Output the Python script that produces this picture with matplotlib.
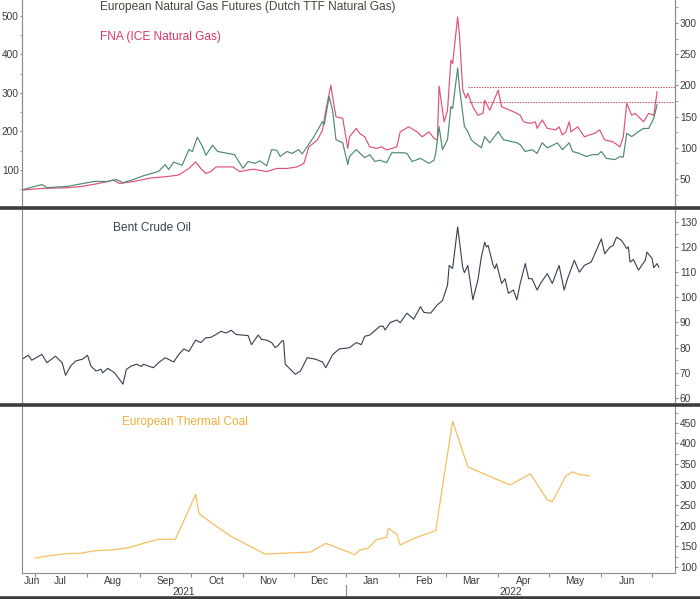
import numpy as np
import pandas as pd
import matplotlib
matplotlib.use("Agg")
import matplotlib.pyplot as plt
import matplotlib.dates as mdates
from matplotlib.ticker import MultipleLocator, FixedLocator, FixedFormatter, NullFormatter
from matplotlib.lines import Line2D

plt.rcParams['font.family'] = ['Liberation Sans', 'DejaVu Sans']

# ---- data ----
ttf_dates = ["2021-06-24", "2021-07-05", "2021-07-08", "2021-07-20", "2021-07-28", "2021-08-05",
             "2021-08-13", "2021-08-18", "2021-08-22", "2021-08-28", "2021-09-03", "2021-09-12",
             "2021-09-16", "2021-09-18", "2021-09-21", "2021-09-26", "2021-09-30", "2021-10-02",
             "2021-10-05", "2021-10-08", "2021-10-10", "2021-10-14", "2021-10-17", "2021-10-23",
             "2021-10-27", "2021-11-01", "2021-11-04", "2021-11-08", "2021-11-11", "2021-11-15",
             "2021-11-18", "2021-11-21", "2021-11-23", "2021-11-27", "2021-11-30", "2021-12-04",
             "2021-12-06", "2021-12-09", "2021-12-13", "2021-12-18", "2021-12-19", "2021-12-22",
             "2021-12-24", "2021-12-26", "2021-12-30", "2022-01-02", "2022-01-03", "2022-01-07",
             "2022-01-12", "2022-01-15", "2022-01-18", "2022-01-21", "2022-01-25", "2022-01-28",
             "2022-02-04", "2022-02-06", "2022-02-09", "2022-02-14", "2022-02-19", "2022-02-22",
             "2022-02-23", "2022-02-25", "2022-02-27", "2022-03-02", "2022-03-04", "2022-03-05",
             "2022-03-08", "2022-03-09", "2022-03-12", "2022-03-14", "2022-03-16", "2022-03-18",
             "2022-03-22", "2022-03-24", "2022-03-27", "2022-04-01", "2022-04-04", "2022-04-12",
             "2022-04-14", "2022-04-17", "2022-04-21", "2022-04-24", "2022-04-27", "2022-04-30",
             "2022-05-04", "2022-05-06", "2022-05-09", "2022-05-13", "2022-05-15", "2022-05-19",
             "2022-05-23", "2022-05-27", "2022-05-30", "2022-06-01", "2022-06-04", "2022-06-09",
             "2022-06-12", "2022-06-14", "2022-06-16", "2022-06-19", "2022-06-23", "2022-06-26",
             "2022-06-29", "2022-07-02", "2022-07-04"]
ttf_vals = [33, 41, 36, 38, 42, 46, 46, 49, 44, 49, 55, 62, 73, 65, 77, 72, 97, 94, 117, 102,
            88, 104, 94, 91, 89, 67, 78, 75, 79, 71, 97, 96, 86, 94, 91, 97, 90, 102, 118, 142,
            137, 182, 160, 113, 108, 73, 86, 97, 84, 89, 78, 80, 76, 92, 92, 91, 78, 83, 75, 80,
            91, 134, 97, 113, 166, 163, 228, 198, 134, 126, 113, 108, 100, 118, 108, 126, 113, 108,
            105, 94, 97, 91, 108, 100, 105, 108, 97, 108, 94, 91, 86, 89, 89, 94, 83, 81,
            86, 85, 123, 118, 126, 131, 131, 147, 169]

fna_dates = ["2021-06-24", "2021-07-04", "2021-07-20", "2021-07-28", "2021-08-05", "2021-08-13",
             "2021-08-16", "2021-08-20", "2021-08-28", "2021-09-07", "2021-09-17", "2021-09-24",
             "2021-09-30", "2021-10-04", "2021-10-07", "2021-10-10", "2021-10-13", "2021-10-16",
             "2021-10-26", "2021-10-30", "2021-11-07", "2021-11-15", "2021-11-21", "2021-11-27",
             "2021-12-03", "2021-12-07", "2021-12-10", "2021-12-15", "2021-12-18", "2021-12-20",
             "2021-12-23", "2021-12-24", "2021-12-26", "2021-12-30", "2022-01-02", "2022-01-03",
             "2022-01-07", "2022-01-09", "2022-01-12", "2022-01-15", "2022-01-19", "2022-01-22",
             "2022-01-25", "2022-01-28", "2022-01-31", "2022-02-02", "2022-02-07", "2022-02-12",
             "2022-02-15", "2022-02-19", "2022-02-22", "2022-02-24", "2022-02-25", "2022-02-28",
             "2022-03-02", "2022-03-04", "2022-03-05", "2022-03-08", "2022-03-09", "2022-03-11",
             "2022-03-13", "2022-03-14", "2022-03-17", "2022-03-20", "2022-03-23", "2022-03-24",
             "2022-03-27", "2022-04-01", "2022-04-03", "2022-04-08", "2022-04-12", "2022-04-14",
             "2022-04-16", "2022-04-20", "2022-04-23", "2022-04-24", "2022-04-27", "2022-04-30",
             "2022-05-05", "2022-05-07", "2022-05-09", "2022-05-11", "2022-05-13", "2022-05-14",
             "2022-05-18", "2022-05-22", "2022-05-25", "2022-05-28", "2022-05-31", "2022-06-03",
             "2022-06-08", "2022-06-12", "2022-06-14", "2022-06-16", "2022-06-19", "2022-06-21",
             "2022-06-23", "2022-06-26", "2022-06-29", "2022-07-02", "2022-07-04"]
fna_vals = [48, 52, 54, 57, 63, 70, 74, 65, 70, 79, 83, 87, 104, 121, 104, 91, 96, 108, 108, 96,
            102, 96, 104, 104, 108, 117, 160, 178, 203, 255, 320, 290, 238, 234, 156, 186, 208, 195,
            186, 160, 156, 160, 152, 156, 160, 199, 212, 199, 186, 199, 182, 178, 318, 225, 255, 385,
            376, 497, 454, 307, 286, 299, 264, 242, 247, 281, 255, 307, 264, 255, 247, 242, 225, 221,
            225, 208, 230, 208, 204, 212, 191, 199, 225, 199, 212, 186, 191, 195, 204, 178, 173, 160,
            186, 273, 242, 247, 238, 225, 247, 242, 303]

# dotted reference levels in the gas panel (right axis)
gas_ref_levels = [197, 173]
gas_ref_starts = ["2022-03-14", "2022-03-15"]

brent_dates = ["2021-06-24", "2021-06-27", "2021-06-29", "2021-07-05", "2021-07-08", "2021-07-13",
               "2021-07-17", "2021-07-19", "2021-07-22", "2021-07-25", "2021-07-29", "2021-08-01",
               "2021-08-03", "2021-08-06", "2021-08-09", "2021-08-10", "2021-08-13", "2021-08-17",
               "2021-08-22", "2021-08-24", "2021-08-27", "2021-08-30", "2021-09-02", "2021-09-03",
               "2021-09-06", "2021-09-09", "2021-09-12", "2021-09-16", "2021-09-21", "2021-09-24",
               "2021-09-27", "2021-09-30", "2021-10-04", "2021-10-07", "2021-10-10", "2021-10-13",
               "2021-10-16", "2021-10-19", "2021-10-22", "2021-10-25", "2021-10-28", "2021-11-04",
               "2021-11-06", "2021-11-10", "2021-11-12", "2021-11-15", "2021-11-18", "2021-11-20",
               "2021-11-22", "2021-11-24", "2021-11-25", "2021-11-26", "2021-12-02", "2021-12-05",
               "2021-12-09", "2021-12-14", "2021-12-18", "2021-12-20", "2021-12-24", "2021-12-28",
               "2021-12-31", "2022-01-03", "2022-01-07", "2022-01-10", "2022-01-12", "2022-01-15",
               "2022-01-21", "2022-01-23", "2022-01-24", "2022-01-27", "2022-01-31", "2022-02-02",
               "2022-02-06", "2022-02-10", "2022-02-14", "2022-02-16", "2022-02-20", "2022-02-24",
               "2022-02-27", "2022-03-02", "2022-03-03", "2022-03-05", "2022-03-08", "2022-03-11",
               "2022-03-12", "2022-03-14", "2022-03-17", "2022-03-20", "2022-03-22", "2022-03-24",
               "2022-03-25", "2022-03-26", "2022-03-29", "2022-03-30", "2022-03-31", "2022-04-03",
               "2022-04-05", "2022-04-07", "2022-04-10", "2022-04-12", "2022-04-14", "2022-04-17",
               "2022-04-19", "2022-04-21", "2022-04-24", "2022-04-26", "2022-04-30", "2022-05-03",
               "2022-05-07", "2022-05-10", "2022-05-12", "2022-05-16", "2022-05-19", "2022-05-22",
               "2022-05-26", "2022-05-29", "2022-06-01", "2022-06-03", "2022-06-06", "2022-06-08",
               "2022-06-10", "2022-06-13", "2022-06-16", "2022-06-17", "2022-06-18", "2022-06-20",
               "2022-06-23", "2022-06-27", "2022-06-28", "2022-07-01", "2022-07-02", "2022-07-04",
               "2022-07-05"]
brent_vals = [75.7, 77, 75, 77.3, 74, 76.6, 74, 69, 72.7, 74.7, 75.4, 77, 72.7, 70.7, 71.4, 70,
              71.8, 70, 65.5, 71.4, 72.7, 73.4, 72.5, 73.4, 72.7, 72, 74, 76, 74.3, 77.3, 79.5,
              78.5, 83, 82, 83.9, 84.1, 85.2, 86.5, 85.8, 86.9, 85.2, 84.8, 81.2, 85, 83.3, 83,
              82, 80, 81, 82.7, 82.7, 73.4, 69.4, 70.7, 76, 75.4, 74.3, 72, 77.2, 79.5, 79.7, 80,
              82, 81.2, 84.5, 85, 88.5, 88.5, 87, 89.9, 91, 89.9, 93.7, 91.3, 96.3, 94, 93.7, 97,
              98.7, 104.8, 112.7, 111.4, 128, 111.8, 109.8, 112.7, 99, 107, 116, 121.9, 120, 120.6,
              112.7, 111.4, 113.3, 105.5, 107.4, 101.6, 102.9, 99, 105.5, 113.4, 107.4, 107.4,
              102.9, 105.5, 109.4, 105.5, 112.7, 102.9, 107.4, 114.7, 110, 112.7, 114, 118.6,
              123.2, 117.3, 119.9, 120.6, 123.9, 122.6, 119.4, 120, 114, 115, 110.8, 114.7, 118,
              115.4, 111.8, 113.4, 112]

coal_dates = ["2021-07-01", "2021-07-09", "2021-07-20", "2021-07-28", "2021-08-05", "2021-08-15",
              "2021-08-25", "2021-09-03", "2021-09-12", "2021-09-22", "2021-10-04", "2021-10-06",
              "2021-10-15", "2021-10-25", "2021-11-14", "2021-11-25", "2021-12-11", "2021-12-20",
              "2022-01-03", "2022-01-06", "2022-01-09", "2022-01-14", "2022-01-19", "2022-01-25",
              "2022-01-26", "2022-01-31", "2022-02-02", "2022-02-06", "2022-02-12", "2022-02-23",
              "2022-03-05", "2022-03-14", "2022-04-08", "2022-04-20", "2022-04-30", "2022-05-03",
              "2022-05-11", "2022-05-15", "2022-05-19", "2022-05-25"]
coal_vals = [121, 127, 132, 133, 139, 141, 146, 157, 167, 167, 276, 229, 202, 174, 131, 133, 136,
             157, 135, 129, 141, 145, 166, 172, 194, 179, 153, 161, 172, 188, 454, 343, 299, 326,
             263, 258, 321, 331, 324, 321]

month_names = ["Jun", "Jul", "Aug", "Sep", "Oct", "Nov", "Dec",
               "Jan", "Feb", "Mar", "Apr", "May", "Jun"]
year_names = ["2021", "2022"]

# ---- style ----
C_TTF = "#4d8a6a"
C_FNA = "#e0507a"
C_OIL = "#34404e"
C_COAL = "#f4bf60"
C_AXIS = "#8c8c8c"
C_TXT = "#3a3a3a"
C_SEP = "#3d3d3d"
FS_TICK = 7.3
FS_LAB = 8.6

x0 = pd.Timestamp("2021-06-23 06:00")
x1 = pd.Timestamp("2022-07-14 14:00")

fig = plt.figure(figsize=(7.0, 5.99), dpi=100)
L, W = 22 / 700, 653 / 700
ax1 = fig.add_axes([L, 1 - 207 / 599, W, 207 / 599])
ax2 = fig.add_axes([L, 1 - 404 / 599, W, 194 / 599])
ax3 = fig.add_axes([L, 1 - 573 / 599, W, 167 / 599])
ax1r = ax1.twinx()

ax1.plot(pd.to_datetime(fna_dates), fna_vals, color=C_FNA, lw=0.85, zorder=3)
ax1r.plot(pd.to_datetime(ttf_dates), ttf_vals, color=C_TTF, lw=0.85, zorder=2)
for lev, st in zip(gas_ref_levels, gas_ref_starts):
    ax1r.hlines(lev, pd.Timestamp(st), x1, colors="#d8505e", lw=0.8,
                linestyles=(0, (1.2, 1.2)))
ax2.plot(pd.to_datetime(brent_dates), brent_vals, color=C_OIL, lw=0.8)
ax3.plot(pd.to_datetime(coal_dates), coal_vals, color=C_COAL, lw=0.9)

ax1.set_ylim(4, 541)
ax1r.set_ylim(5, 337)
ax2.set_ylim(57.6, 134.7)
ax3.set_ylim(85, 491)

for ax in (ax1, ax1r, ax2, ax3):
    ax.set_xlim(x0, x1)
    ax.patch.set_alpha(0)
    for s in ax.spines.values():
        s.set_color(C_AXIS)
        s.set_linewidth(0.8)
    ax.spines["top"].set_visible(False)
    ax.tick_params(axis="y", which="both", colors=C_AXIS, labelcolor=C_TXT,
                   labelsize=FS_TICK, direction="out", pad=1)
    ax.tick_params(axis="y", which="major", length=2.5)
    ax.tick_params(axis="y", which="minor", length=1.8)

for ax in (ax1, ax1r, ax2):
    ax.spines["bottom"].set_visible(False)
    ax.tick_params(axis="x", which="both", bottom=False, labelbottom=False)

ax1.tick_params(axis="y", which="major", length=1.8, pad=0.5)
ax1.yaxis.set_major_locator(FixedLocator([100, 200, 300, 400, 500]))
ax1.yaxis.set_minor_locator(MultipleLocator(50))
ax1r.yaxis.set_major_locator(MultipleLocator(50))
ax1r.yaxis.set_minor_locator(MultipleLocator(25))

for ax in (ax2, ax3):
    ax.yaxis.tick_right()
ax2.yaxis.set_major_locator(MultipleLocator(10))
ax2.yaxis.set_minor_locator(MultipleLocator(5))
ax3.yaxis.set_major_locator(MultipleLocator(50))
ax3.yaxis.set_minor_locator(MultipleLocator(25))

# x axis: ticks at month starts, labels mid-month
month_starts = pd.date_range("2021-07-01", "2022-07-01", freq="MS")
label_pos = [pd.Timestamp("2021-06-29")] + [m + pd.Timedelta(days=15) for m in month_starts[:-1]]
ax3.xaxis.set_major_locator(FixedLocator(mdates.date2num(month_starts)))
ax3.xaxis.set_major_formatter(NullFormatter())
ax3.xaxis.set_minor_locator(FixedLocator(mdates.date2num(label_pos)))
ax3.xaxis.set_minor_formatter(FixedFormatter(month_names))
ax3.tick_params(axis="x", which="major", length=3, colors=C_AXIS, direction="out")
ax3.tick_params(axis="x", which="minor", length=0, labelsize=FS_TICK, labelcolor=C_TXT, pad=2)

# year labels centred under the visible part of each year
yb = pd.Timestamp("2022-01-01")
for name, (a, b) in zip(year_names, [(x0, yb), (yb, x1)]):
    ax3.text(a + (b - a) / 2, -0.115, name, transform=ax3.get_xaxis_transform(),
             ha="center", va="center", fontsize=FS_TICK, color=C_TXT)
ax3.plot([yb, yb], [-0.07, -0.15], transform=ax3.get_xaxis_transform(),
         color=C_AXIS, lw=0.8, clip_on=False)

# panel separators
for yy in [1 - 208.5 / 599, 1 - 405 / 599, 1 - 597.5 / 599]:
    fig.add_artist(Line2D([0, 1], [yy, yy], transform=fig.transFigure, color=C_SEP, lw=2.6))

# series labels
fig.text(100 / 700, 1 - 7 / 599, "European Natural Gas Futures (Dutch TTF Natural Gas)",
         color="#3e4a38", fontsize=FS_LAB, va="center")
fig.text(100 / 700, 1 - 37 / 599, "FNA (ICE Natural Gas)", color="#d8386a", fontsize=FS_LAB, va="center")
fig.text(113 / 700, 1 - 228 / 599, "Bent Crude Oil", color="#384150", fontsize=FS_LAB, va="center")
fig.text(122 / 700, 1 - 422 / 599, "European Thermal Coal", color="#f0ae3c", fontsize=FS_LAB, va="center")

fig.savefig("out.png", dpi=100, facecolor="white")
